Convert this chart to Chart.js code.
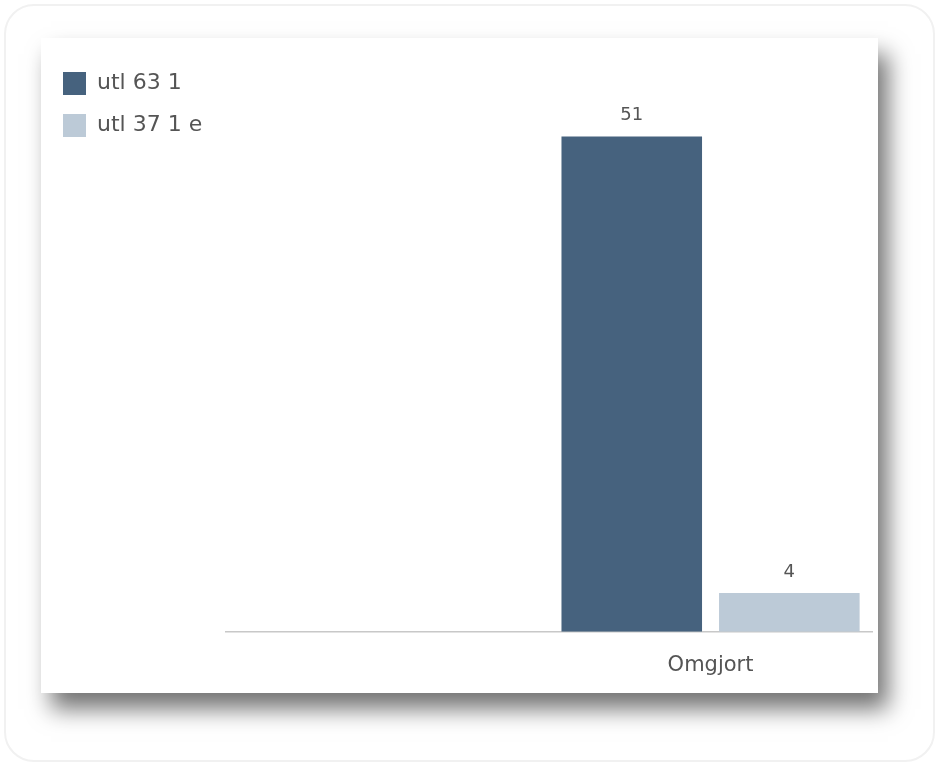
<!DOCTYPE html>
<html>
<head>
<meta charset="utf-8">
<script src="https://cdn.jsdelivr.net/npm/chart.js@4.4.1/dist/chart.umd.min.js"></script>
<style>
  html, body { margin: 0; padding: 0; background: #fff; }
  body { width: 943px; height: 769px; position: relative; overflow: hidden; }
  .frame {
    position: absolute; left: 4px; top: 4px; width: 931px; height: 758px;
    border: 2px solid #f1f1f1; border-radius: 30px; box-sizing: border-box;
  }
  .card {
    position: absolute; left: 41px; top: 38px; width: 837px; height: 655px;
    background: #fff;
    box-shadow: 10px 16px 22px rgba(0, 0, 0, 0.55);
  }
  .card canvas { display: block; }
</style>
</head>
<body>
<div class="frame"></div>
<div class="card"><canvas id="chart" width="837" height="655"></canvas></div>
<script>
const categories = ['', 'Omgjort'];
const seriesNames = ['utl 63 1', 'utl 37 1 e'];
const seriesA = [null, 51];
const seriesB = [null, 4];

const fontFamily = '"DejaVu Sans", sans-serif';

// prints each bar's value just above it
const valueLabels = {
  id: 'valueLabels',
  afterDatasetsDraw(chart) {
    const ctx = chart.ctx;
    ctx.save();
    ctx.fillStyle = '#555';
    ctx.font = '18px ' + fontFamily;
    ctx.textAlign = 'center';
    ctx.textBaseline = 'bottom';
    chart.data.datasets.forEach((ds, i) => {
      chart.getDatasetMeta(i).data.forEach((bar, j) => {
        if (ds.data[j] == null) return;
        ctx.fillText(ds.data[j], bar.x, bar.y - 12);
      });
    });
    ctx.restore();
  }
};

new Chart(document.getElementById('chart'), {
  type: 'bar',
  data: {
    labels: categories,
    datasets: [
      { label: seriesNames[0], data: seriesA, backgroundColor: '#46627e' },
      { label: seriesNames[1], data: seriesB, backgroundColor: '#bccad7' }
    ]
  },
  options: {
    responsive: false,
    animation: false,
    categoryPercentage: 0.976,
    barPercentage: 0.892,
    layout: { padding: { left: 3, right: 6, top: 15, bottom: -6 } },
    plugins: {
      legend: {
        position: 'left',
        align: 'start',
        labels: {
          boxWidth: 23,
          boxHeight: 23,
          padding: 19,
          color: '#555',
          font: { family: fontFamily, size: 22 }
        }
      },
      tooltip: { enabled: false }
    },
    scales: {
      x: {
        grid: { display: false, drawTicks: false },
        border: { color: '#c8c8c8', width: 1.5 },
        ticks: { color: '#555', font: { family: fontFamily, size: 21 }, padding: 21 }
      },
      y: {
        min: 0,
        max: 59.6,
        // empty gutter between the legend and the plot
        ticks: { display: false },
        grid: { display: false },
        border: { display: false },
        afterFit(scale) { scale.width = 14; }
      }
    }
  },
  plugins: [valueLabels]
});
</script>
</body>
</html>
